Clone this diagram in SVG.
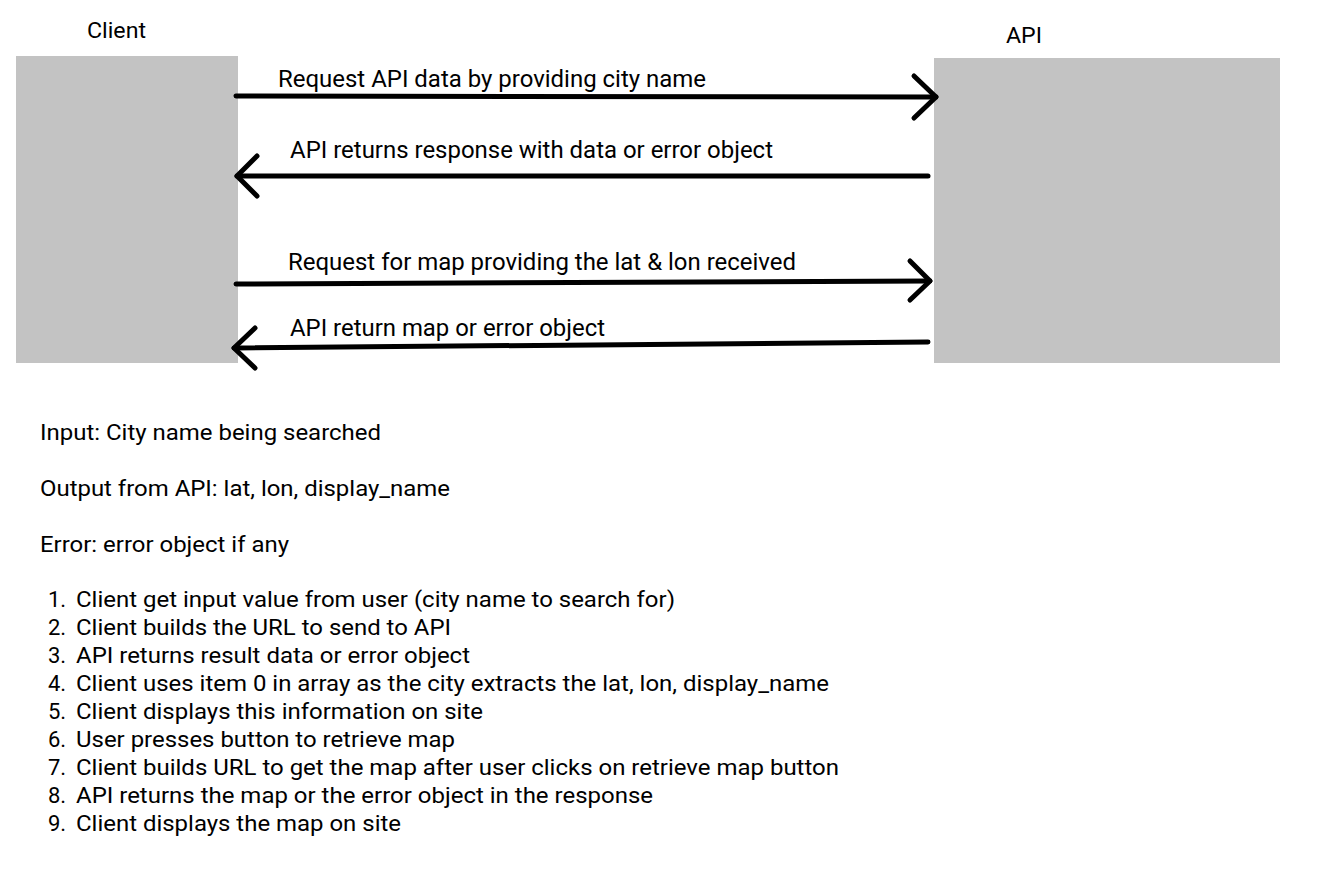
<svg xmlns="http://www.w3.org/2000/svg" width="1339" height="886" viewBox="0 0 1339 886">
<style>
text{font-family:Roboto,"Liberation Sans",sans-serif;font-size:22px;fill:#000}
.lbl{font-size:23px}
.box{fill:#c3c3c3}
.ln{stroke:#000;stroke-width:5;fill:none;stroke-linecap:round;stroke-linejoin:round}
</style>
<rect width="1339" height="886" fill="#fff"/>
<g id="client">
<rect class="box" x="16" y="56" width="222" height="307"/>
<text x="87" y="38" textLength="59" lengthAdjust="spacingAndGlyphs">Client</text>
</g>
<g id="api">
<rect class="box" x="934" y="58" width="346" height="305"/>
<text x="1006" y="43" textLength="36" lengthAdjust="spacingAndGlyphs">API</text>
</g>
<g id="connectors">
<g id="c1">
<path class="ln" d="M236 96 L936 97"/>
<path class="ln" d="M914 76 L936 97 L914 118"/>
<text class="lbl" x="278" y="87" textLength="428" lengthAdjust="spacingAndGlyphs">Request API data by providing city name</text>
</g>
<g id="c2">
<path class="ln" d="M928 176 L237 176"/>
<path class="ln" d="M257 156 L237 176 L257 196"/>
<text class="lbl" x="290" y="158" textLength="483" lengthAdjust="spacingAndGlyphs">API returns response with data or error object</text>
</g>
<g id="c3">
<path class="ln" d="M236 284 L930 281"/>
<path class="ln" d="M910 261 L930 281 L910 300"/>
<text class="lbl" x="288" y="270" textLength="508" lengthAdjust="spacingAndGlyphs">Request for map providing the lat &amp; lon received</text>
</g>
<g id="c4">
<path class="ln" d="M928 342 L234 348"/>
<path class="ln" d="M255 328 L234 348 L255 368"/>
<text class="lbl" x="290" y="336" textLength="315" lengthAdjust="spacingAndGlyphs">API return map or error object</text>
</g>
</g>
<g id="notes">
<text x="40" y="440" textLength="341" lengthAdjust="spacingAndGlyphs">Input: City name being searched</text>
<text x="40" y="496" textLength="410" lengthAdjust="spacingAndGlyphs">Output from API: lat, lon, display_name</text>
<text x="40" y="552" textLength="249" lengthAdjust="spacingAndGlyphs">Error: error object if any</text>
</g>
<g id="steps">
<text x="48" y="607">1.</text><text x="76" y="607" textLength="599" lengthAdjust="spacingAndGlyphs">Client get input value from user (city name to search for)</text>
<text x="48" y="635">2.</text><text x="76" y="635" textLength="375" lengthAdjust="spacingAndGlyphs">Client builds the URL to send to API</text>
<text x="48" y="663">3.</text><text x="76" y="663" textLength="394" lengthAdjust="spacingAndGlyphs">API returns result data or error object</text>
<text x="48" y="691">4.</text><text x="76" y="691" textLength="753" lengthAdjust="spacingAndGlyphs">Client uses item 0 in array as the city extracts the lat, lon, display_name</text>
<text x="48" y="719">5.</text><text x="76" y="719" textLength="407" lengthAdjust="spacingAndGlyphs">Client displays this information on site</text>
<text x="48" y="747">6.</text><text x="76" y="747" textLength="379" lengthAdjust="spacingAndGlyphs">User presses button to retrieve map</text>
<text x="48" y="775">7.</text><text x="76" y="775" textLength="763" lengthAdjust="spacingAndGlyphs">Client builds URL to get the map after user clicks on retrieve map button</text>
<text x="48" y="803">8.</text><text x="76" y="803" textLength="577" lengthAdjust="spacingAndGlyphs">API returns the map or the error object in the response</text>
<text x="48" y="831">9.</text><text x="76" y="831" textLength="325" lengthAdjust="spacingAndGlyphs">Client displays the map on site</text>
</g>
</svg>
